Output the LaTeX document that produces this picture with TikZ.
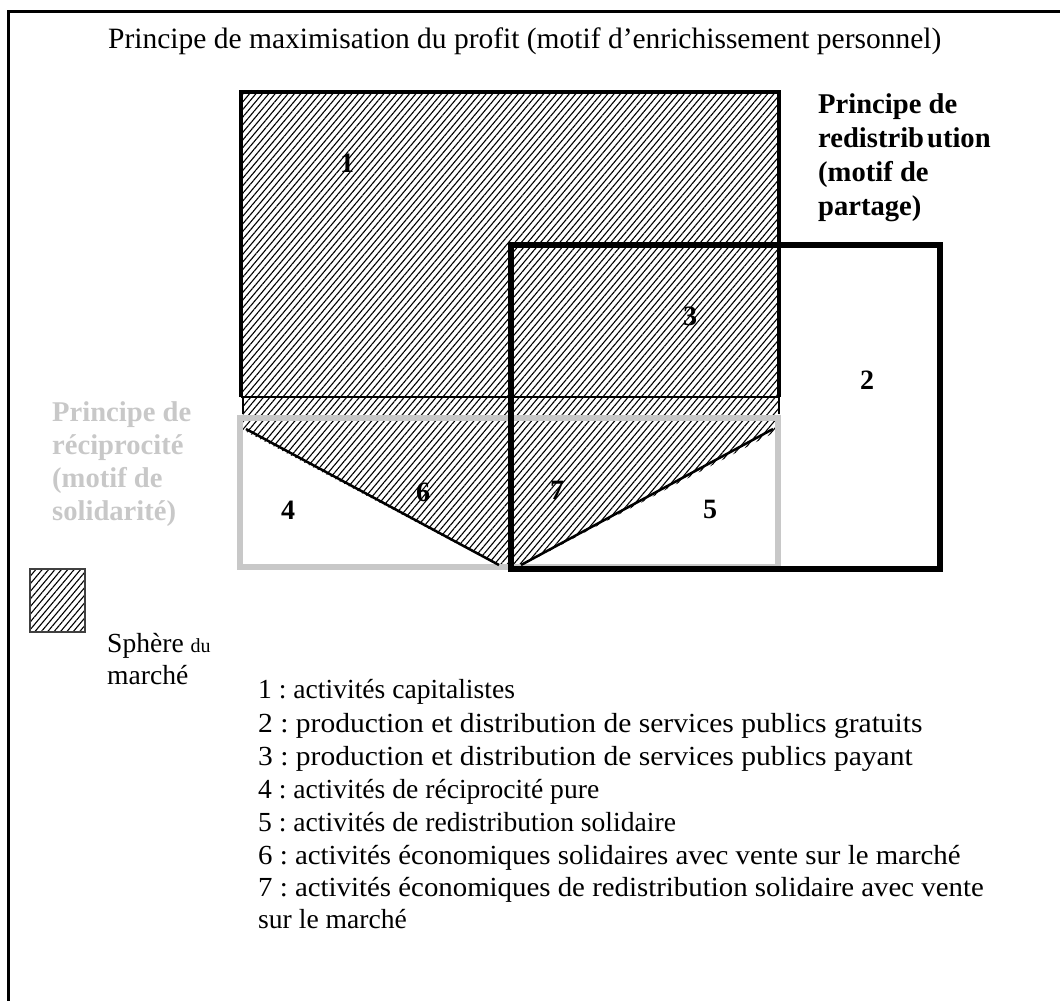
\documentclass[tikz,border=0pt]{standalone}
\usepackage{fontspec}
\setmainfont{Liberation Serif}
\usetikzlibrary{patterns.meta}
\definecolor{lgray}{RGB}{200,200,200}
\definecolor{dgray}{RGB}{64,64,64}
\tikzset{
  txt/.style={font=\frenchspacing\fontsize{27.6}{33}\selectfont, anchor=base west, inner sep=0pt},
  ttl/.style={font=\frenchspacing\fontsize{29.5}{33}\selectfont, anchor=base west, inner sep=0pt},
  btxt/.style={font=\frenchspacing\fontsize{28.6}{33}\selectfont\bfseries, anchor=base west, inner sep=0pt},
  num/.style={font=\fontsize{28}{33}\selectfont\bfseries, inner sep=0pt},
  hatch/.style={pattern={Lines[angle=50,distance=4.9pt,line width=1.1pt]}, pattern color=black},
}
\begin{document}
\begin{tikzpicture}[x=1pt,y=-1pt]
\useasboundingbox (0,0) rectangle (1060,1001);
% frame (left and top only)
\draw[line width=3pt] (8,1001) -- (8,11) -- (1060,11);
% market sphere hatch
\fill[hatch] (241,92) -- (779,92) -- (779,430) -- (523,565) -- (497,565) -- (243,430) -- cycle;
% reciprocity rectangle
\draw[lgray, line width=6pt] (240,418) rectangle (778,567);
% V lines
\draw[line width=2.5pt] (246,429) -- (499,565);
\draw[line width=2.5pt] (773,429) -- (521,565);
% rectangle 1
\draw[line width=4pt] (241,397) -- (241,92) -- (779,92) -- (779,397);
\draw[line width=2pt] (241,397) -- (779,397);
\draw[line width=1.5pt] (243,397) -- (243,414);
\draw[line width=2pt] (779,397) -- (779,414);
% rectangle 2
\draw[line width=6pt] (511,245) rectangle (940,569);
% legend square
\draw[hatch, draw=dgray, line width=2.5pt] (30,569) rectangle (85,632);
% labels
\node[ttl] (title) at (108,48) {Principe de maximisation du profit (motif d’enrichissement personnel)};
\node[btxt] (r1) at (818,113) {Principe de};
\node[btxt] (r2) at (818,147) {{\spaceskip=3pt redistrib ution}};
\node[btxt] (r3) at (818,181) {(motif de};
\node[btxt] (r4) at (818,215) {partage)};
\node[btxt, text=lgray] (g1) at (52,421) {Principe de};
\node[btxt, text=lgray] (g2) at (52,454) {réciprocité};
\node[btxt, text=lgray] (g3) at (52,487) {(motif de};
\node[btxt, text=lgray] (g4) at (52,520) {solidarité)};
\node[num] (n1) at (347,163) {1};
\node[num] (n2) at (867,380) {2};
\node[num] (n3) at (690,316) {3};
\node[num] (n4) at (288,510) {4};
\node[num] (n5) at (710,509) {5};
\node[num] (n6) at (423,492) {6};
\node[num] (n7) at (557,490) {7};
\node[txt] (s1) at (107,652) {Sphère {\fontsize{20}{22}\selectfont du}};
\node[txt] (s2) at (107,684) {marché};
\node[txt] (l1) at (258,698) {1 : activités capitalistes};
\node[txt] (l2) at (258,732) {\scalebox{1.07}[1]{2 : production et distribution de services publics gratuits}};
\node[txt] (l3) at (258,765) {\scalebox{1.07}[1]{3 : production et distribution de services publics payant}};
\node[txt] (l4) at (258,798) {4 : activités de réciprocité pure};
\node[txt] (l5) at (258,831) {5 : activités de redistribution solidaire};
\node[txt] (l6) at (258,864) {\scalebox{1.045}[1]{6 : activités économiques solidaires avec vente sur le marché}};
\node[txt] (l7) at (258,896) {\scalebox{1.045}[1]{7 : activités économiques de redistribution solidaire avec vente}};
\node[txt] (l8) at (258,928) {sur le marché};
\end{tikzpicture}
\end{document}
